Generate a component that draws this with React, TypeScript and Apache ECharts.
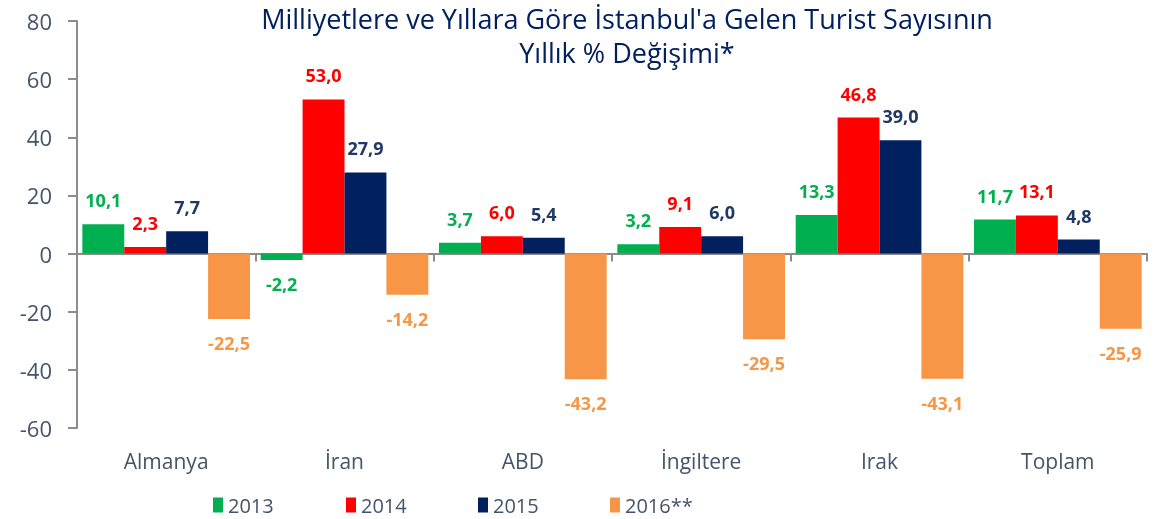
import React, { useEffect, useRef } from "react";
import * as echarts from "echarts";

const categories = ["Almanya", "İran", "ABD", "İngiltere", "Irak", "Toplam"];
const seriesNames = ["2013", "2014", "2015", "2016**"];
const values2013 = [10.1, -2.2, 3.7, 3.2, 13.3, 11.7];
const values2014 = [2.3, 53.0, 6.0, 9.1, 46.8, 13.1];
const values2015 = [7.7, 27.9, 5.4, 6.0, 39.0, 4.8];
const values2016 = [-22.5, -14.2, -43.2, -29.5, -43.1, -25.9];
const yTicks = { min: -60, max: 80, interval: 20 };

const barColors = ["#00B050", "#FF0000", "#002060", "#F79646"];
const labelColors = ["#00B050", "#FF0000", "#1F3864", "#F79646"];
const FONT = "'Open Sans', sans-serif";
const TEXT = "#44546A";

export default function App() {
  const ref = useRef<HTMLDivElement>(null);
  useEffect(() => {
    if (!ref.current) return;
    const chart = echarts.init(ref.current, undefined, { renderer: "svg" });
    const all = [values2013, values2014, values2015, values2016];
    const series = all.map((vals, i) => ({
      name: seriesNames[i],
      type: "bar",
      xAxisIndex: 0,
      barGap: "0%",
      barCategoryGap: "6%",
      itemStyle: { color: barColors[i] },
      data: vals.map((v) => ({
        value: v,
        label: { position: v < 0 ? "bottom" : "top" },
      })),
      label: {
        show: true,
        distance: 15,
        color: labelColors[i],
        fontFamily: FONT,
        fontWeight: "bold",
        fontSize: 18,
        formatter: (p: any) => p.value.toFixed(1).replace(".", ","),
      },
    }));
    const legendLefts = [208, 341, 473, 605];
    chart.setOption({
      animation: false,
      textStyle: { fontFamily: FONT },
      grid: { left: 77, right: 13, top: 21, bottom: 91, containLabel: false },
      graphic: [
        {
          type: "text",
          x: 627,
          y: 1,
          style: {
            text: "Milliyetlere ve Yıllara Göre İstanbul'a Gelen Turist Sayısının\nYıllık % Değişimi*",
            align: "center",
            verticalAlign: "top",
            fill: "#002060",
            font: `27px ${FONT}`,
            lineHeight: 34,
          },
        },
      ],
      legend: legendLefts.map((l, i) => ({
        left: l,
        top: 490,
        data: [seriesNames[i]],
        itemWidth: 10,
        itemHeight: 15,
        itemGap: 8,
        icon: "rect",
        textStyle: { color: TEXT, fontSize: 20, fontFamily: FONT },
      })),
      xAxis: [
        {
          type: "category",
          data: categories,
          position: "bottom",
          axisLine: { onZero: true, lineStyle: { color: "#8C8C8C", width: 2 } },
          axisTick: { show: true, length: 8, lineStyle: { color: "#8C8C8C", width: 2 } },
          axisLabel: { show: false },
        },
        {
          type: "category",
          data: categories,
          position: "bottom",
          axisLine: { show: false, onZero: false },
          axisTick: { show: false },
          axisLabel: { color: TEXT, fontSize: 21, margin: 22, fontFamily: FONT },
        },
      ],
      yAxis: {
        type: "value",
        min: yTicks.min,
        max: yTicks.max,
        interval: yTicks.interval,
        splitLine: { show: false },
        axisLine: { show: true, lineStyle: { color: "#8C8C8C", width: 2 } },
        axisTick: { show: true, length: 9, lineStyle: { color: "#8C8C8C", width: 2 } },
        axisLabel: { color: TEXT, fontSize: 22, margin: 25, fontFamily: FONT },
      },
      series,
    });
    return () => chart.dispose();
  }, []);
  return (
    <div
      ref={ref}
      style={{ position: "fixed", left: 0, top: 0, width: 1160, height: 519 }}
    />
  );
}
